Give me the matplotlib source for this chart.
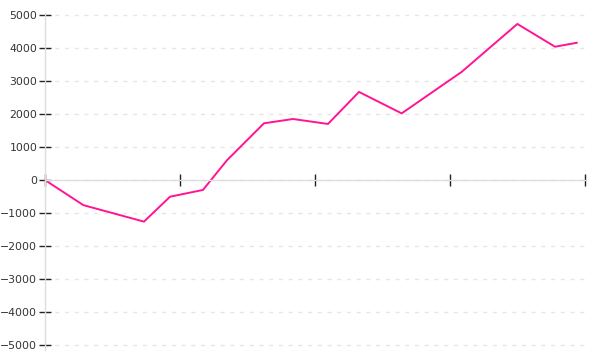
import matplotlib
matplotlib.use("Agg")
import matplotlib.pyplot as plt
from matplotlib.ticker import FixedLocator, FuncFormatter

# Data (x in axis units, ticks at 0..4 without labels)
x_vals = [0.0, 0.284, 0.733, 0.926, 1.17, 1.348, 1.622, 1.837, 2.096, 2.326, 2.642, 3.087, 3.499, 3.778, 3.939]
y_vals = [0, -760, -1260, -505, -300, 600, 1720, 1850, 1700, 2670, 2020, 3280, 4730, 4040, 4160]
x_ticks = [0, 1, 2, 3, 4]
y_ticks = [-5000, -4000, -3000, -2000, -1000, 0, 1000, 2000, 3000, 4000, 5000]

fig = plt.figure(figsize=(6, 3.6), dpi=100)
ax = fig.add_axes([0.075, 1 - 350 / 360, 0.9, 336.6 / 360])

ax.plot(x_vals, y_vals, color="#ff1493", linewidth=1.4, solid_joinstyle="miter")

ax.set_xlim(0, 4)
ax.set_ylim(-5150, 5050)

for s in ["top", "right"]:
    ax.spines[s].set_visible(False)
ax.spines["left"].set_color("#dddddd")
ax.spines["bottom"].set_color("#dddddd")
ax.spines["bottom"].set_position(("data", 0))
ax.spines["left"].set_linewidth(1)
ax.spines["bottom"].set_linewidth(1)

ax.yaxis.set_major_locator(FixedLocator(y_ticks))
ax.xaxis.set_major_locator(FixedLocator(x_ticks))
ax.yaxis.set_major_formatter(FuncFormatter(lambda v, p: f"{int(v)}".replace("-", "\u2212")))
ax.set_xticklabels([])

ax.tick_params(axis="y", direction="inout", length=9, width=1, color="#222222",
               labelsize=7.8, labelcolor="#333333", pad=1)
ax.tick_params(axis="x", direction="inout", length=9, width=1, color="#222222")

ax.yaxis.grid(True, color="#e6e6e6", linestyle=(0, (3, 4)), linewidth=1)
ax.xaxis.grid(False)
ax.set_axisbelow(True)

fig.savefig("out.png", dpi=100)
